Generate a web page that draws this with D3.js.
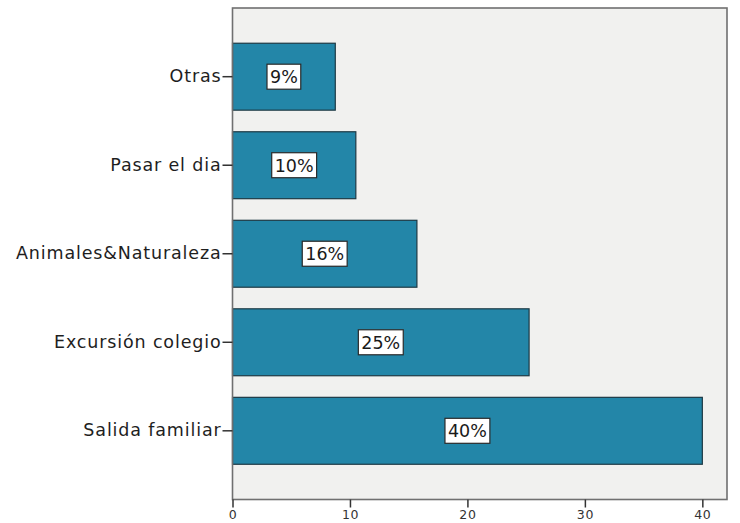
<!DOCTYPE html>
<html>
<head>
<meta charset="utf-8">
<script src="https://cdn.jsdelivr.net/npm/d3@7"></script>
<style>
  html, body { margin: 0; padding: 0; background: #ffffff; }
  svg { display: block; }
</style>
</head>
<body>
<svg id="chart" width="740" height="523"></svg>
<script>
const categories = ["Otras", "Pasar el dia", "Animales&Naturaleza", "Excursión colegio", "Salida familiar"];
const values = [8.75, 10.5, 15.7, 25.25, 40.0];
const valueLabels = ["9%", "10%", "16%", "25%", "40%"];
const xTicks = [0, 10, 20, 30, 40];

const svg = d3.select("#chart");
const plot = { left: 232.5, right: 727, top: 8, bottom: 499.5 };

const x = d3.scaleLinear().domain([0, 42.1]).range([plot.left, plot.right]);
const y = d3.scaleBand().domain(categories).range([plot.top, plot.bottom])
  .paddingInner(0.244).paddingOuter(0.398);

// plot background
svg.append("rect")
  .attr("x", plot.left).attr("y", plot.top)
  .attr("width", plot.right - plot.left).attr("height", plot.bottom - plot.top)
  .attr("fill", "#f1f1ef");

// bars
const data = categories.map((c, i) => ({ c, v: values[i], l: valueLabels[i] }));
svg.append("g").selectAll("rect").data(data).join("rect")
  .attr("x", x(0))
  .attr("y", d => y(d.c))
  .attr("width", d => x(d.v) - x(0))
  .attr("height", y.bandwidth())
  .attr("fill", "#2386a8")
  .attr("stroke", "#1d3944")
  .attr("stroke-width", 1.2);

// plot border
svg.append("rect")
  .attr("x", plot.left).attr("y", plot.top)
  .attr("width", plot.right - plot.left).attr("height", plot.bottom - plot.top)
  .attr("fill", "none").attr("stroke", "#707070").attr("stroke-width", 1.6);

// value labels
const lab = svg.append("g").selectAll("g").data(data).join("g")
  .attr("transform", d => `translate(${(x(0) + x(d.v)) / 2},${y(d.c) + y.bandwidth() / 2})`);
lab.each(function(d) {
  const g = d3.select(this);
  const t = g.append("text")
    .attr("text-anchor", "middle")
    .attr("dy", "0.36em")
    .attr("font-family", "DejaVu Sans, sans-serif")
    .attr("font-size", 17.5)
    .attr("fill", "#1a1a1a")
    .text(d.l);
  const w = t.node().getComputedTextLength();
  g.insert("rect", "text")
    .attr("x", -w / 2 - 3).attr("y", -12.5)
    .attr("width", w + 6).attr("height", 25)
    .attr("fill", "#ffffff").attr("stroke", "#2a2a2a").attr("stroke-width", 1.2);
});

// x axis
const xAxis = svg.append("g")
  .attr("transform", `translate(0,${plot.bottom})`)
  .call(d3.axisBottom(x).tickValues(xTicks).tickSize(8).tickPadding(3).tickFormat(d3.format("d")));
xAxis.select(".domain").remove();
xAxis.selectAll(".tick line").attr("stroke", "#333").attr("stroke-width", 1.5);
xAxis.selectAll(".tick text")
  .attr("font-family", "DejaVu Sans, sans-serif")
  .attr("font-size", 12.5)
  .attr("letter-spacing", "0.6px")
  .attr("fill", "#333");

// y axis
const yAxis = svg.append("g")
  .attr("transform", `translate(${plot.left},0)`)
  .call(d3.axisLeft(y).tickSize(10).tickPadding(1));
yAxis.select(".domain").remove();
yAxis.selectAll(".tick line").attr("stroke", "#333").attr("stroke-width", 1.5);
yAxis.selectAll(".tick text")
  .attr("font-family", "DejaVu Sans, sans-serif")
  .attr("font-size", 17.5)
  .attr("letter-spacing", "0.85px")
  .attr("fill", "#1e1e1e");
</script>
</body>
</html>
